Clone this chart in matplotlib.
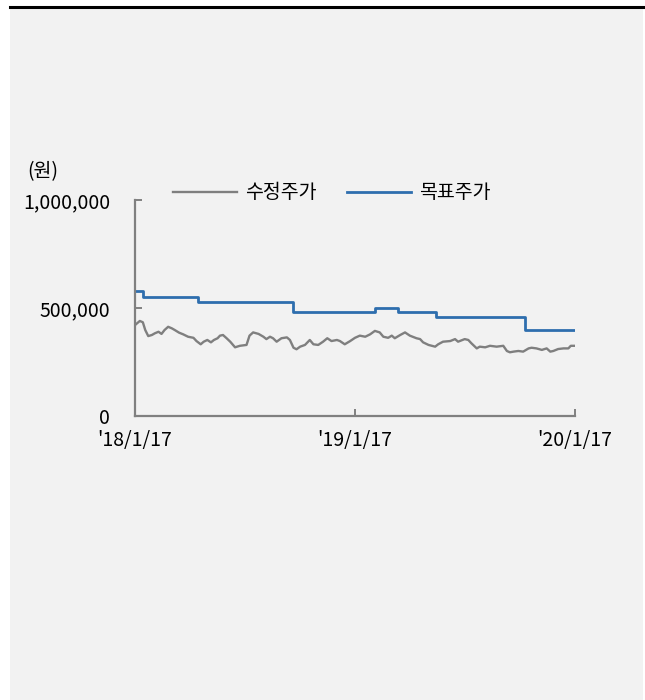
import matplotlib
matplotlib.use("Agg")
import matplotlib.pyplot as plt
from matplotlib.patches import Rectangle
from matplotlib.lines import Line2D
from matplotlib.ticker import FuncFormatter
import pandas as pd

plt.rcParams['font.family'] = ['Noto Sans CJK KR', 'DejaVu Sans']

# ---- data ----
base_date = "2018-01-17"
price_days = [0, 8, 13, 17, 22, 28, 33, 39, 44, 49, 55, 61, 66, 73, 80, 88, 97, 102, 109, 114,
              120, 126, 131, 137, 141, 146, 152, 158, 166, 174, 185, 190, 196, 205, 213, 218,
              224, 229, 235, 243, 252, 257, 263, 268, 274, 282, 290, 296, 304, 312, 319, 326,
              335, 340, 348, 357, 365, 373, 382, 390, 398, 406, 412, 420, 426, 431, 440, 448,
              456, 467, 473, 478, 487, 498, 503, 511, 523, 531, 536, 547, 553, 558, 567, 572,
              581, 589, 600, 611, 617, 622, 628, 636, 644, 653, 658, 666, 675, 683, 689, 694,
              702, 711, 719, 723, 730]
price_vals = [421, 440, 434, 398, 370, 375, 383, 390, 380, 398, 413, 406, 398, 386, 378, 367,
              362, 347, 332, 344, 352, 341, 352, 360, 372, 375, 360, 344, 318, 325, 329, 372,
              387, 380, 367, 356, 367, 360, 344, 360, 364, 352, 316, 309, 321, 329, 352, 332,
              329, 344, 360, 347, 352, 347, 332, 347, 362, 372, 367, 378, 394, 387, 367, 362,
              372, 360, 375, 387, 372, 360, 356, 341, 329, 321, 332, 344, 347, 356, 344, 356,
              352, 337, 313, 321, 318, 325, 321, 325, 301, 295, 298, 301, 298, 313, 316, 313,
              306, 313, 298, 301, 310, 313, 313, 325, 325]
target_dates = ["2018-01-17", "2018-01-31", "2018-05-01", "2018-10-06", "2019-02-19",
                "2019-03-29", "2019-06-01", "2019-10-26", "2020-01-17"]
target_vals = [580000, 550000, 530000, 480000, 500000, 480000, 460000, 400000, 400000]
x_ticks = ["2018-01-17", "2019-01-17", "2020-01-17"]
x_tick_labels = ["'18/1/17", "'19/1/17", "'20/1/17"]
y_ticks = [0, 500000, 1000000]
series_names = ["수정주가", "목표주가"]
unit_label = "(원)"

FS = 14

W, H = 645, 700
fig = plt.figure(figsize=(W / 100, H / 100), dpi=100)
fig.patch.set_facecolor("white")
fig.patches.append(Rectangle((10 / W, 0), 633 / W, 692 / H, transform=fig.transFigure,
                             facecolor="#f2f2f2", edgecolor="none", zorder=-10))
fig.lines.append(Line2D([10 / W, 643 / W], [1 - 6.5 / H, 1 - 6.5 / H], transform=fig.transFigure,
                        color="black", linewidth=2.2, zorder=-5))

ax = fig.add_axes([135 / W, 1 - 416 / H, 440 / W, 216 / H])
ax.set_facecolor("none")
ax.set_zorder(5)

p_dates = pd.Timestamp(base_date) + pd.to_timedelta(price_days, unit="D")
p_vals = [v * 1000 for v in price_vals]
t_dates = pd.to_datetime(target_dates)

ax.plot(p_dates, p_vals, color="#7f7f7f", linewidth=1.7, label=series_names[0])
ax.step(t_dates, target_vals, where="post", color="#2e6eae", linewidth=2.0, label=series_names[1])

ax.set_xlim(pd.Timestamp(x_ticks[0]), pd.Timestamp(x_ticks[-1]))
ax.set_ylim(0, 1000000)
ax.set_xticks(pd.to_datetime(x_ticks))
ax.set_xticklabels(x_tick_labels)
ax.set_yticks(y_ticks)
ax.yaxis.set_major_formatter(FuncFormatter(lambda v, p: f"{int(v):,}"))

for s in ["top", "right"]:
    ax.spines[s].set_visible(False)
for s in ["left", "bottom"]:
    ax.spines[s].set_color("#808080")
    ax.spines[s].set_linewidth(1.6)
ax.tick_params(axis="both", direction="in", length=5, width=1.4, color="#808080",
               labelsize=FS, labelcolor="black")
ax.tick_params(axis="y", pad=18)
ax.tick_params(axis="x", pad=10)

fig.text(27 / W, 1 - 172 / H, unit_label, fontsize=FS, ha="left", va="center")

leg = ax.legend(loc="center left", bbox_to_anchor=(173 / W, 1 - 193 / H),
                bbox_transform=fig.transFigure, ncol=2, frameon=False, fontsize=FS,
                handlelength=3.3, handletextpad=0.4, columnspacing=1.55, borderpad=0,
                borderaxespad=0)

fig.savefig("out.png", dpi=100, facecolor=fig.get_facecolor())
